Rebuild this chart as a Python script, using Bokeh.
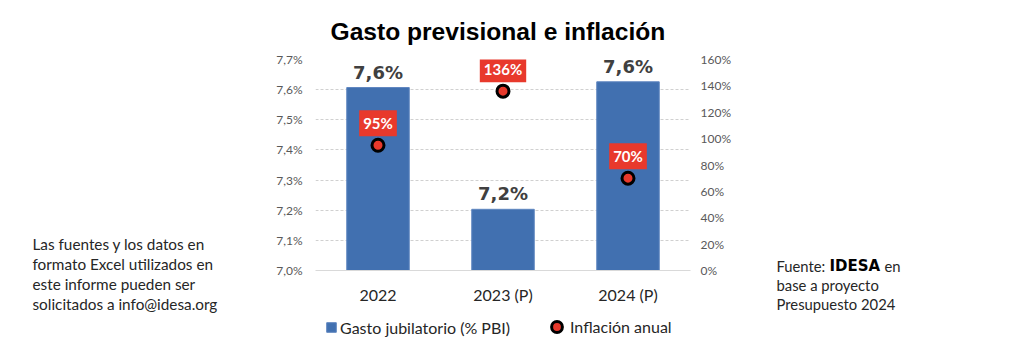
from bokeh.plotting import figure
from bokeh.layouts import row, column
from bokeh.models import (Range1d, LinearAxis, FixedTicker, CustomJSTickFormatter,
                          Legend, LegendItem, Label, ColumnDataSource, FactorRange)
from bokeh.core.properties import value
from bokeh.embed import file_html
from bokeh.resources import INLINE

categories = ["2022", "2023 (P)", "2024 (P)"]
gasto = [7.607, 7.203, 7.626]
gasto_labels = ["7,6%", "7,2%", "7,6%"]
inflacion = [95, 136, 70]
inflacion_labels = ["95%", "136%", "70%"]
left_ticks = [7.0, 7.1, 7.2, 7.3, 7.4, 7.5, 7.6, 7.7]
right_ticks = [0, 20, 40, 60, 80, 100, 120, 140, 160]
serie_gasto = "Gasto jubilatorio (% PBI)"
serie_infl = "Inflación anual"
titulo = "Gasto previsional e inflación"
nota_izq = ["Las fuentes y los datos en", "formato Excel utilizados en",
            "este informe pueden ser", "solicitados a info@idesa.org"]

BLUE = "#4170b0"
RED = "#e8392c"
FONT = "Lato"
TXT = "#262626"

src = ColumnDataSource(dict(cat=categories, gasto=gasto, gl=gasto_labels,
                            infl=inflacion, il=inflacion_labels))

# ---------------- main chart ----------------
p = figure(frame_width=375, frame_height=211, x_range=FactorRange(*categories),
           y_range=Range1d(7.0, 7.7), output_backend="svg", toolbar_location=None,
           min_border_left=65, min_border_right=70, min_border_top=59,
           min_border_bottom=37, outline_line_color=None)
p.extra_y_ranges = {"infl": Range1d(0, 160)}

p.title.text = titulo
p.title.align = "left"
p.title.offset = 15
p.title.text_font = "Liberation Sans"
p.title.text_font_size = "24.6px"
p.title.text_font_style = "bold"
p.title.text_color = "#000000"
p.title.standoff = 29

bars = p.vbar(x="cat", top="gasto", bottom=7.0, width=0.5, source=src,
              fill_color=BLUE, line_color="#5f86c0", line_width=1)
pts = p.scatter(x="cat", y="infl", source=src, y_range_name="infl", size=12,
                fill_color=RED, line_color="#000000", line_width=3)

p.text(x="cat", y="gasto", text="gl", source=src, text_align="center",
       text_baseline="bottom", y_offset=-5, text_font=value("DejaVu Sans"),
       text_font_size="18px", text_font_style="bold", text_color="#404040")

p.text(x="cat", y="infl", text="il", source=src, y_range_name="infl",
       text_align="center", text_baseline="bottom", y_offset=-9,
       text_font=value(FONT), text_font_size="15px", text_font_style="bold",
       text_color="#ffffff", background_fill_color=RED, padding=4)

p.yaxis.ticker = FixedTicker(ticks=left_ticks)
p.yaxis.formatter = CustomJSTickFormatter(code="return tick.toFixed(1).replace('.', ',') + '%';")
p.yaxis.major_label_standoff = 13

ra = LinearAxis(y_range_name="infl", ticker=FixedTicker(ticks=right_ticks),
                formatter=CustomJSTickFormatter(code="return tick.toFixed(0) + '%';"))
ra.major_label_standoff = 10
p.add_layout(ra, "right")

for ax in (p.yaxis[0], ra):
    ax.axis_line_color = None
    ax.major_label_text_font = FONT
    ax.major_label_text_font_size = "12px"
    ax.major_label_text_color = "#595959"

for ax in (p.yaxis[0], ra, p.xaxis[0]):
    ax.major_tick_line_color = None
    ax.minor_tick_line_color = None
    ax.major_tick_out = 0
    ax.major_tick_in = 0
    ax.minor_tick_out = 0
    ax.minor_tick_in = 0

p.xaxis.axis_line_color = "#d9d9d9"
p.xaxis.major_label_text_font = FONT
p.xaxis.major_label_text_font_size = "16px"
p.xaxis.major_label_text_color = TXT
p.xaxis.major_label_standoff = 14

p.xgrid.grid_line_color = None
p.ygrid.grid_line_color = "#d0d0d0"
p.ygrid.grid_line_dash = "3 2"


def blank(width, height, x0, x1, y0, y1):
    f = figure(width=width, height=height, x_range=Range1d(x0, x1), y_range=Range1d(y0, y1),
               output_backend="svg", toolbar_location=None, x_axis_type=None,
               y_axis_type=None, min_border=0, outline_line_color=None)
    f.grid.visible = False
    if "frame_align" in f.properties():
        f.frame_align = False
    return f


# ---------------- left note ----------------
left = blank(250, 315, 0, 250, 315, 0)
for i, t in enumerate(nota_izq):
    left.add_layout(Label(x=32, y=243 + 20 * i, text=t, text_font=FONT,
                          text_font_size="15.3px", text_color=TXT, text_baseline="middle"))

# ---------------- right note ----------------
right = blank(264, 315, 760, 1024, 315, 0)
right.add_layout(Label(x=776, y=265, text="Fuente:", text_font=FONT, text_font_size="14.8px",
                       text_color=TXT, text_baseline="middle"))
right.add_layout(Label(x=829, y=265, text="IDESA", text_font="DejaVu Sans",
                       text_font_size="15px", text_font_style="bold", text_color="#000000",
                       text_baseline="middle"))
right.add_layout(Label(x=884, y=265, text="en", text_font=FONT, text_font_size="14.8px",
                       text_color=TXT, text_baseline="middle"))
right.add_layout(Label(x=776, y=284, text="base a proyecto", text_font=FONT,
                       text_font_size="14.8px", text_color=TXT, text_baseline="middle"))
right.add_layout(Label(x=776, y=303, text="Presupuesto 2024", text_font=FONT,
                       text_font_size="14.8px", text_color=TXT, text_baseline="middle"))

# ---------------- legend strip ----------------
# legend swatches reuse the series; this strip's ranges lie far from the data,
# so only the legend glyphs show
leg = blank(1024, 22, 5000, 6024, 5000, 5022)
lb = leg.vbar(x="infl", top="infl", bottom="infl", width=1, source=src,
              fill_color=BLUE, line_color="#5f86c0")
ls = leg.scatter(x="infl", y="infl", source=src, fill_color=RED, line_color="#000000",
                 line_width=3)
leg1 = Legend(items=[LegendItem(label=serie_gasto, renderers=[lb])], location=(325, 0),
              glyph_width=12, glyph_height=12, label_height=20, label_standoff=3,
              label_text_font=FONT, label_text_font_size="16px", label_text_color=TXT,
              border_line_color=None, background_fill_alpha=0, padding=0, margin=0)
leg2 = Legend(items=[LegendItem(label=serie_infl, renderers=[ls])], location=(543, -4),
              glyph_width=27, glyph_height=29, label_height=20, label_standoff=0,
              label_text_font=FONT, label_text_font_size="16px", label_text_color=TXT,
              border_line_color=None, background_fill_alpha=0, padding=0, margin=0)
leg.add_layout(leg1, "center")
leg.add_layout(leg2, "center")

layout = column(row(column(left), p, column(right), spacing=0), leg, spacing=0)
open("out.html", "w").write(file_html(layout, INLINE))
